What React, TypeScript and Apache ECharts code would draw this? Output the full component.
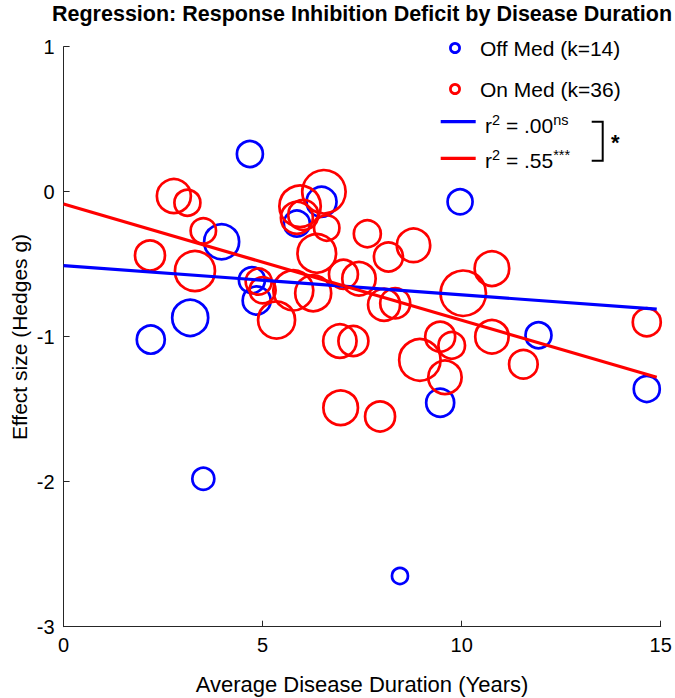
import React, { useEffect, useRef } from 'react';
import * as echarts from 'echarts';

// ---------- data ----------
const offMedDuration = [4.68, 3.97, 6.48, 5.86, 9.96, 4.73, 4.85, 2.19, 3.18, 3.51, 9.46, 11.93, 14.65, 8.45];
const offMedEffect = [0.26, -0.345, -0.07, -0.22, -0.07, -0.61, -0.75, -1.02, -0.87, -1.98, -1.455, -0.99, -1.36, -2.65];
const offMedWeight = [13, 17.5, 15, 13, 12.5, 13, 14, 14, 18, 11, 14, 13, 13, 8];

const onMedDuration = [
  2.77, 3.11, 3.51, 2.17, 3.3, 4.9, 5.0, 5.35, 6.54, 5.94, 6.02, 5.86,
  6.61, 6.36, 7.63, 8.16, 8.79, 5.77, 6.27, 7.03, 7.42, 8.05, 8.33, 10.76,
  10.04, 14.65, 6.94, 7.28, 8.95, 9.46, 9.75, 9.58, 10.76, 11.55, 6.96, 7.95,
];
const onMedEffect = [
  -0.03, -0.076, -0.27, -0.44, -0.547, -0.62, -0.68, -0.885, 0.0, -0.1, -0.16, -0.18,
  -0.25, -0.425, -0.29, -0.45, -0.37, -0.68, -0.7, -0.57, -0.6, -0.78, -0.77, -0.53,
  -0.7, -0.9, -1.03, -1.03, -1.16, -1.0, -1.06, -1.28, -1.0, -1.19, -1.49, -1.55,
];
const onMedWeight = [
  17, 13, 12.7, 15, 20, 13, 13, 18.5, 21.7, 20.7, 15, 16,
  12.7, 19.3, 13.5, 14.5, 16.7, 20, 18, 14.5, 16.7, 16, 15, 17.3,
  22.7, 14, 16.7, 15, 20.7, 15, 13.3, 16.7, 16.7, 14.3, 17.3, 15,
];

const fitX = [0, 14.9];
const offMedFit = [-0.51, -0.81];
const onMedFit = [-0.085, -1.28];

const xTicks = { min: 0, max: 15, step: 5 };
const yTicks = { min: -3, max: 1, step: 1 };

const titleText = 'Regression: Response Inhibition Deficit by Disease Duration';
const xName = 'Average Disease Duration (Years)';
const yName = 'Effect size (Hedges g)';
const offLabel = 'Off Med (k=14)';
const onLabel = 'On Med (k=36)';
const offR2 = '.00';
const offSig = 'ns';
const onR2 = '.55';
const onSig = '***';

// ---------- styles ----------
const FONT = '"Liberation Sans", Arial, Helvetica, sans-serif';
const BLUE = '#0000ff';
const RED = '#ff0000';
const AXIS = '#262626';

const GRID = { left: 63.6, right: 14.3, top: 46.7, bottom: 71.3 };

function zip3(a: number[], b: number[], c: number[]) {
  return a.map((v, i) => [v, b[i], c[i]]);
}

export default function App() {
  const ref = useRef<HTMLDivElement>(null);
  useEffect(() => {
    if (!ref.current) return;
    const chart = echarts.init(ref.current, null, { renderer: 'svg' });

    const scatter = (name: string, data: number[][], color: string) => ({
      name,
      type: 'scatter',
      data,
      symbol: 'circle',
      symbolSize: (d: number[]) => d[2] * 2,
      itemStyle: { color: 'rgba(0,0,0,0)', borderColor: color, borderWidth: 2.7, opacity: 1 },
      emphasis: { disabled: true },
      z: 2,
    });

    const fitLine = (name: string, ys: number[], color: string) => ({
      name,
      type: 'line',
      data: fitX.map((x, i) => [x, ys[i]]),
      showSymbol: false,
      symbol: 'none',
      lineStyle: { color, width: 3.2 },
      emphasis: { disabled: true },
      z: 3,
    });

    const supRich = {
      m: { fontSize: 21, fontFamily: FONT, fill: '#000', lineHeight: 26, verticalAlign: 'middle' },
      s: { fontSize: 14.5, fontFamily: FONT, fill: '#000', lineHeight: 12, verticalAlign: 'top' },
    };

    const option: any = {
      animation: false,
      backgroundColor: '#ffffff',
      textStyle: { fontFamily: FONT },
      grid: { ...GRID, containLabel: false, outerBoundsMode: 'none' },
      xAxis: {
        type: 'value',
        min: xTicks.min,
        max: xTicks.max,
        interval: xTicks.step,
        axisLine: { show: true, onZero: false, lineStyle: { color: AXIS, width: 1 } },
        axisTick: { show: true, inside: true, length: 6, lineStyle: { color: AXIS, width: 1 } },
        axisLabel: { color: '#000', fontSize: 20, margin: 8, fontFamily: FONT },
        splitLine: { show: false },
      },
      yAxis: {
        type: 'value',
        min: yTicks.min,
        max: yTicks.max,
        interval: yTicks.step,
        axisLine: { show: true, onZero: false, lineStyle: { color: AXIS, width: 1 } },
        axisTick: { show: true, inside: true, length: 6, lineStyle: { color: AXIS, width: 1 } },
        axisLabel: { color: '#000', fontSize: 20, margin: 9, fontFamily: FONT },
        splitLine: { show: false },
      },
      series: [
        scatter('Off Med', zip3(offMedDuration, offMedEffect, offMedWeight), BLUE),
        scatter('On Med', zip3(onMedDuration, onMedEffect, onMedWeight), RED),
        fitLine('Off Med fit', offMedFit, BLUE),
        fitLine('On Med fit', onMedFit, RED),
      ],
      graphic: [
        {
          type: 'text', x: 362, y: 14,
          style: { text: titleText, font: `bold 21.5px ${FONT}`, fill: '#000', align: 'center', verticalAlign: 'middle' },
        },
        {
          type: 'text', x: 362, y: 684,
          style: { text: xName, font: `22px ${FONT}`, fill: '#000', align: 'center', verticalAlign: 'middle' },
        },
        {
          type: 'text', x: 19, y: 337, rotation: Math.PI / 2,
          style: { text: yName, font: `21px ${FONT}`, fill: '#000', align: 'center', verticalAlign: 'middle' },
        },
        // legend: markers
        { type: 'circle', shape: { cx: 455, cy: 48, r: 4.6 }, style: { fill: 'none', stroke: BLUE, lineWidth: 2.7 } },
        {
          type: 'text', x: 480, y: 48,
          style: { text: offLabel, font: `21px ${FONT}`, fill: '#000', align: 'left', verticalAlign: 'middle' },
        },
        { type: 'circle', shape: { cx: 455, cy: 89, r: 4.6 }, style: { fill: 'none', stroke: RED, lineWidth: 2.7 } },
        {
          type: 'text', x: 480, y: 89,
          style: { text: onLabel, font: `21px ${FONT}`, fill: '#000', align: 'left', verticalAlign: 'middle' },
        },
        // legend: fit lines
        { type: 'line', shape: { x1: 440.7, y1: 121.7, x2: 475.7, y2: 121.7 }, style: { stroke: BLUE, lineWidth: 3.2 } },
        {
          type: 'text', x: 485, y: 125,
          style: {
            text: `{m|r}{s|2}{m| = ${offR2}}{s|${offSig}}`,
            rich: supRich, align: 'left', verticalAlign: 'middle',
          },
        },
        { type: 'line', shape: { x1: 440.7, y1: 158.3, x2: 475.7, y2: 158.3 }, style: { stroke: RED, lineWidth: 3.2 } },
        {
          type: 'text', x: 485, y: 160,
          style: {
            text: `{m|r}{s|2}{m| = ${onR2}}{s|${onSig}}`,
            rich: supRich, align: 'left', verticalAlign: 'middle',
          },
        },
        // significance bracket
        {
          type: 'polyline',
          shape: { points: [[591.7, 121.7], [602.7, 121.7], [602.7, 160.7], [591.7, 160.7]] },
          style: { stroke: '#000', lineWidth: 2, fill: 'none' },
        },
        {
          type: 'text', x: 611, y: 142,
          style: { text: '*', font: `bold 22px ${FONT}`, fill: '#000', align: 'left', verticalAlign: 'middle' },
        },
      ],
    };

    chart.setOption(option);
    return () => chart.dispose();
  }, []);

  return (
    <div
      ref={ref}
      style={{ position: 'fixed', left: 0, top: 0, width: 675, height: 698, background: '#fff' }}
    />
  );
}
